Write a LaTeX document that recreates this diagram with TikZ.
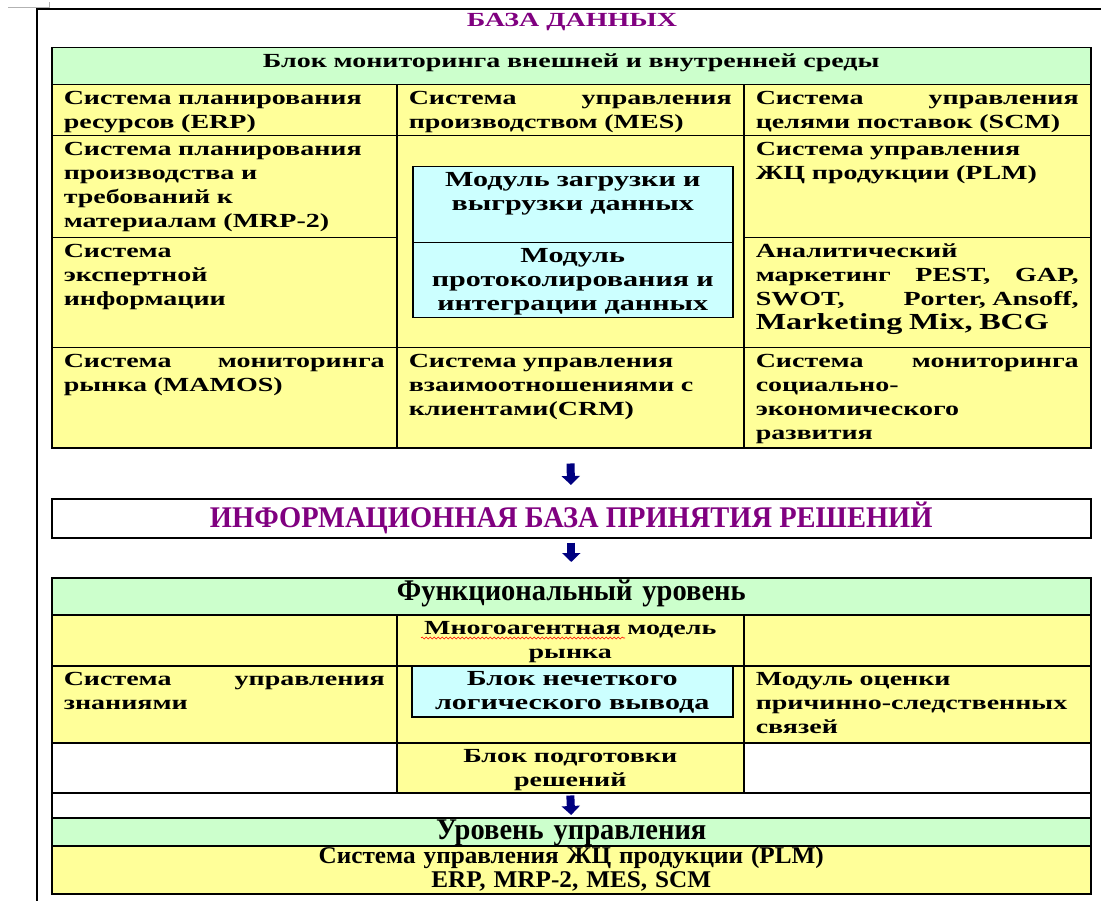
\documentclass[tikz,border=0pt]{standalone}
\usepackage{fontspec}
\setmainfont{Liberation Serif}
\newfontfamily\widefont{Liberation Serif}[FakeStretch=1.4]
\newfontfamily\narrowfont{Liberation Serif}[FakeStretch=0.95]
\newfontfamily\plmfont{Liberation Serif}[FakeStretch=1.05]
\usetikzlibrary{arrows.meta, calc, decorations.pathmorphing}
\definecolor{cellyellow}{RGB}{255,255,153}
\definecolor{cellgreen}{RGB}{204,255,204}
\definecolor{cellcyan}{RGB}{204,255,255}
\definecolor{titlepurple}{RGB}{128,0,128}
\definecolor{arrowblue}{RGB}{0,0,128}
\newcommand{\jline}[1]{\makebox[\linewidth][s]{#1}}

\begin{document}
\begin{tikzpicture}[x=1pt, y=-1pt,
  cell/.style={draw, line width=1.5pt, anchor=north west, inner xsep=12pt, inner ysep=4pt, text height=16pt, align=left, font=\widefont\bfseries\fontsize{20}{24}\selectfont},
  ycell/.style={cell, fill=cellyellow},
  ccell/.style={cell, fill=cellcyan, align=center, font=\widefont\bfseries\fontsize{21.5}{24}\selectfont},
  gcell/.style={cell, fill=cellgreen, align=center},
  wcell/.style={cell, fill=white},
  bigtext/.style={font=\narrowfont\bfseries\fontsize{30}{32}\selectfont, inner ysep=2pt, text height=21pt},
  down/.style={arrowblue, line width=8pt, -{Triangle[width=18pt, length=9pt]}},
]
\useasboundingbox (0,0) rectangle (1101,901);

% page frame
\draw[gray!60, line width=0.8pt] (8,7) -- (49,7) -- (49,2);
\draw[line width=1.5pt] (37,901) -- (37,9) -- (1101,9);

\node[font=\widefont\bfseries\fontsize{20}{24}\selectfont, text=titlepurple] (dbtitle) at (572,22) {БАЗА ДАННЫХ};

% database block
\node[gcell, text width=1015pt, text depth=13pt] (mon) at (51,47) {Блок мониторинга внешней и внутренней среды};
\node[ycell, text width=321pt, text depth=27pt] (erp) at (51,84) {Система планирования\\ресурсов (ERP)};
\node[ycell, text width=323pt, text depth=27pt] (mes) at (396,84) {\jline{Система\hfill управления}\\производством (MES)};
\node[ycell, text width=323pt, text depth=27pt] (scm) at (743,84) {\jline{Система\hfill управления}\\целями поставок (SCM)};
\node[ycell, text width=321pt, text depth=78pt] (mrp) at (51,135) {Система планирования\\производства и\\требований к\\материалам (MRP-2)};
\node[ycell, text width=323pt, text depth=188pt] (mid) at (396,135) {};
\node[ycell, text width=323pt, text depth=78pt] (plm) at (743,135) {Система управления\\ЖЦ продукции (PLM)};
\node[ccell, text width=296pt, text depth=52pt] (load) at (412,166) {Модуль загрузки и\\выгрузки данных};
\node[ccell, text width=296pt, text depth=51pt] (log) at (412,242) {Модуль\\протоколирования и\\интеграции данных};
\node[ycell, text width=321pt, text depth=86pt] (exp) at (51,237) {Система\\экспертной\\информации};
\node[ycell, text width=323pt, text depth=86pt] (mkt) at (743,237) {Аналитический\\\jline{маркетинг\hfill PEST,\hfill GAP,}\\\jline{SWOT,\hfill Porter, Ansoff,}\\{\fontsize{23}{24}\selectfont Marketing Mix, BCG}};
\node[ycell, text width=321pt, text depth=76pt] (mamos) at (51,347) {\jline{Система\hfill мониторинга}\\рынка (MAMOS)};
\node[ycell, text width=323pt, text depth=76pt] (crm) at (396,347) {Система управления\\взаимоотношениями с\\клиентами(CRM)};
\node[ycell, text width=323pt, text depth=76pt] (soc) at (743,347) {\jline{Система\hfill мониторинга}\\социально-\\экономического\\развития};

\node[draw, line width=1.5pt, anchor=north west, fill=white, minimum width=1039pt, minimum height=39pt, inner sep=0pt, text=titlepurple, font=\narrowfont\bfseries\fontsize{30}{32}\selectfont] (info) at (51,498) {ИНФОРМАЦИОННАЯ БАЗА ПРИНЯТИЯ РЕШЕНИЙ};
\draw[down, shorten <=15pt, shorten >=13pt] (crm.south) -- (info.north);

% functional level
\node[gcell, bigtext, text width=1015pt, text depth=12pt] (func) at (51,577) {Функциональный уровень};
\draw[down, shorten <=4pt, shorten >=15pt] (info.south) -- (func.north);
\node[ycell, text width=321pt, text depth=27pt] (emptya) at (51,614) {};
\node[ycell, align=center, text width=323pt, text depth=27pt] (mam) at (396,614) {Многоагентная модель\\рынка};
\node[ycell, text width=323pt, text depth=27pt] (emptyb) at (743,614) {};
\node[ycell, text width=321pt, text depth=53pt] (know) at (51,665) {\jline{Система\hfill управления}\\знаниями};
\node[ycell, text width=323pt, text depth=53pt] (fuzzyback) at (396,665) {};
\node[ccell, text width=297pt, text depth=27pt] (fuzzy) at (411,665) {Блок нечеткого\\логического вывода};
\node[ycell, text width=323pt, text depth=53pt] (cause) at (743,665) {Модуль оценки\\причинно-следственных\\связей};
\node[wcell, text width=321pt, text depth=26pt] (blanka) at (51,742) {};
\node[ycell, align=center, text width=323pt, text depth=26pt] (prep) at (396,742) {Блок подготовки\\решений};
\node[wcell, text width=323pt, text depth=26pt] (blankb) at (743,742) {};
\node[wcell, text width=1015pt, text depth=1pt] (gap) at (51,792) {};
\draw[red, line width=0.6pt, decorate, decoration={snake, amplitude=1pt, segment length=4pt}] ($(mam.north west)+(25,24)$) -- ($(mam.north west)+(229,24)$);

% control level
\node[gcell, bigtext, text width=1015pt, text height=20pt, text depth=4pt] (mgmt) at (51,817) {Уровень управления};
\node[ycell, align=center, font=\plmfont\bfseries\fontsize{24}{24}\selectfont, inner ysep=1pt, text height=17pt, text depth=29pt, text width=1015pt] (plmall) at (51,845) {Система управления ЖЦ продукции (PLM)\\ERP, MRP-2, MES, SCM};
\draw[down, shorten <=2pt, shorten >=2pt] (prep.south) -- (mgmt.north);
\end{tikzpicture}
\end{document}
